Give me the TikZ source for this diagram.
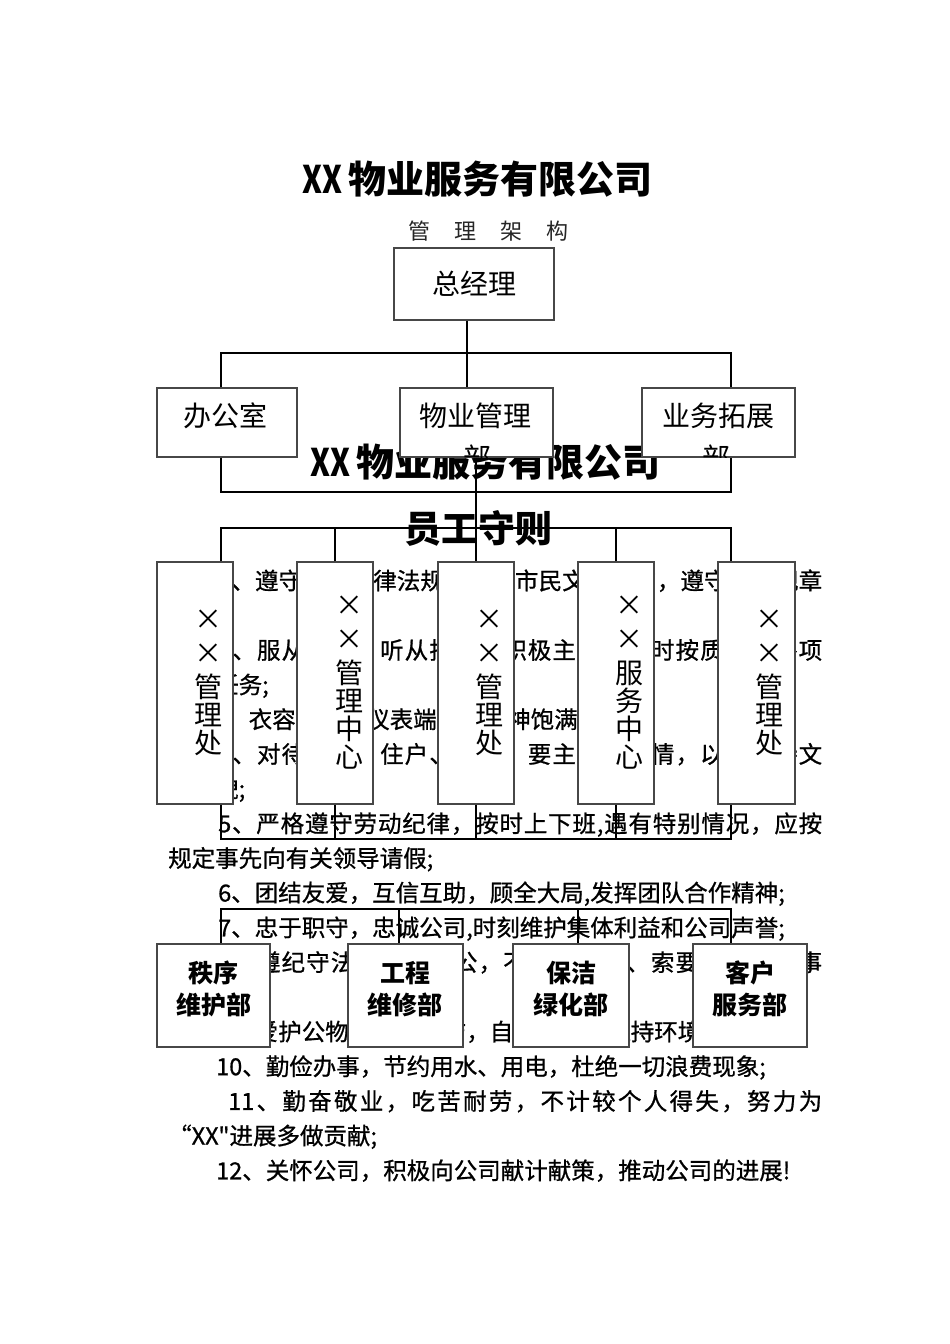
\documentclass[tikz,border=0pt]{standalone}
\usepackage{fontspec}
\setmainfont{Noto Sans CJK SC}
\newfontfamily\rulefont[FakeBold=0.8]{Noto Sans CJK SC}
\usetikzlibrary{positioning}

% spread the characters of one line over a given width
\def\jstop{}
\def\jfirst#1{#1\jrest}
\def\jrest#1{\ifx\jstop#1\else\hskip 0pt plus 1fil\relax#1\expandafter\jrest\fi}
\newcommand\jline[2]{\hbox to #1{\jfirst#2\jstop}}

\tikzset{
  orgbox/.style  ={draw=black!72, line width=1.3pt, fill=white, inner sep=0pt},
  boxlbl/.style  ={inner sep=0pt, font=\fontsize{28}{28}\selectfont},
  vlbl/.style    ={inner sep=0pt, align=center, font=\fontsize{28}{28}\selectfont},
  unitlbl/.style ={inner sep=0pt, align=center, font=\bfseries\fontsize{25}{32}\selectfont},
  body/.style    ={anchor=base west, inner sep=0pt, font=\rulefont\fontsize{23.5}{28}\selectfont},
  heading/.style ={anchor=base west, inner sep=0pt, font=\bfseries\fontsize{38}{40}\selectfont},
  link/.style    ={draw=black, line width=1.3pt},
}

\begin{document}
\begin{tikzpicture}[x=1pt, y=-1pt]
\fill[white] (0,0) rectangle (950,1344);
\useasboundingbox (0,0) rectangle (950,1344);

% headings
\node[heading] (title) at (302,193) {\scalebox{0.8}[1]{XX}\hspace{6pt}物业服务有限公司};
\node[anchor=base west, inner sep=0pt, black!85, font=\fontsize{22}{22}\selectfont] (subtitle) at (408,239)
  {管\hspace{24pt}理\hspace{24pt}架\hspace{24pt}构};
\node[heading] (title2) at (310,476) {\scalebox{0.8}[1]{XX}\hspace{6pt}物业服务有限公司};
\node[heading, font=\bfseries\fontsize{37}{40}\selectfont] (rules) at (404,542) {员工守则};

% staff rules text
\node[body] (r1)  at (218,589.5)  {\jline{604pt}{1、遵守国家法律法规，遵守市民文明公约，遵守公司规章}};
\node[body] (r1b) at (168,624.2)  {制度;};
\node[body] (r2)  at (218,658.9)  {\jline{604pt}{2、服从领导，听从指挥，积极主动，准时按质完成各项}};
\node[body] (r2b) at (168,693.5)  {工作任务;};
\node[body] (r3)  at (212,728.2)  {3、衣容整洁，仪表端庄，精神饱满;};
\node[body] (r4)  at (218,762.9)  {\jline{604pt}{4、对待业主、住户、客户，要主动、热情，以礼相待文}};
\node[body] (r4b) at (168,797.5)  {明礼貌;};
\node[body] (r5)  at (218,832.3)  {\jline{604pt}{5、严格遵守劳动纪律，按时上下班,遇有特别情况，应按}};
\node[body] (r5b) at (168,867)    {规定事先向有关领导请假;};
\node[body] (r6)  at (218,901.5)  {6、团结友爱，互信互助，顾全大局,发挥团队合作精神;};
\node[body] (r7)  at (218,936.4)  {7、忠于职守，忠诚公司,时刻维护集体利益和公司声誉;};
\node[body] (r8)  at (218,971.1)  {\jline{604pt}{8、遵纪守法，廉洁奉公，不贪污受贿、索要好处，凡事}};
\node[body] (r8b) at (168,1005.8) {讲公道;};
\node[body] (r9)  at (218,1040.5) {9、爱护公物，保持清洁，自觉维护和保持环境卫生;};
\node[body] (r10) at (216,1075.2) {10、勤俭办事，节约用水、用电，杜绝一切浪费现象;};
\node[body] (r11) at (228,1109.9) {\jline{594pt}{{11}、勤奋敬业，吃苦耐劳，不计较个人得失，努力为}};
\node[body] (r11b) at (168,1144.5) {“XX\symbol{34}进展多做贡献;};
\node[body] (r12) at (216,1179.3) {12、关怀公司，积极向公司献计献策，推动公司的进展!};

% organisation boxes
\node[orgbox, boxlbl, minimum width=160pt, minimum height=72pt] (gm) at (474,284) {总经理};

\node[orgbox, minimum width=140pt, minimum height=69pt] (office)   at (227,422.5) {};
\node[orgbox, minimum width=153pt, minimum height=69pt] (propmgmt) at (476.5,422.5) {};
\node[orgbox, minimum width=153pt, minimum height=69pt] (bizdev)   at (718.5,422.5) {};
\node[boxlbl] (office-l)   at (225,416)   {办公室};
\node[boxlbl] (propmgmt-l) at (475,416)   {物业管理};
\node[boxlbl] (bizdev-l)   at (718.5,416) {业务拓展};
\begin{scope}
\clip (propmgmt.south west) rectangle (propmgmt.north east);
\node[boxlbl] (propmgmt-b) at (477,458) {部};
\end{scope}
\begin{scope}
\clip (bizdev.south west) rectangle (bizdev.north east);
\node[boxlbl] (bizdev-b) at (716,458) {部};
\end{scope}

\node[orgbox, minimum width=76pt, minimum height=242pt] (d1) at (195,683)   {};
\node[orgbox, minimum width=76pt, minimum height=242pt] (d2) at (335,683)   {};
\node[orgbox, minimum width=76pt, minimum height=242pt] (d3) at (476,683)   {};
\node[orgbox, minimum width=76pt, minimum height=242pt] (d4) at (616,683)   {};
\node[orgbox, minimum width=77pt, minimum height=242pt] (d5) at (756.5,683) {};
\node[vlbl] (d1-l) at (208,683) {×\\[6pt]×\\[6pt]管\\理\\处};
\node[vlbl] (d2-l) at (349,683) {×\\[6pt]×\\[6pt]管\\理\\中\\心};
\node[vlbl] (d3-l) at (489,683) {×\\[6pt]×\\[6pt]管\\理\\处};
\node[vlbl] (d4-l) at (629,683) {×\\[6pt]×\\[6pt]服\\务\\中\\心};
\node[vlbl] (d5-l) at (769,683) {×\\[6pt]×\\[6pt]管\\理\\处};

\node[orgbox, minimum width=113pt, minimum height=103pt] (s1) at (213.5,995.5) {};
\node[orgbox, minimum width=115pt, minimum height=103pt] (s2) at (405.5,995.5) {};
\node[orgbox, minimum width=116pt, minimum height=103pt] (s3) at (571,995.5)   {};
\node[orgbox, minimum width=114pt, minimum height=103pt] (s4) at (750,995.5)   {};
\node[unitlbl] (s1-l) at (213.5,989) {秩序\\维护部};
\node[unitlbl] (s2-l) at (405,989)   {工程\\维修部};
\node[unitlbl] (s3-l) at (571,989)   {保洁\\绿化部};
\node[unitlbl] (s4-l) at (750,989)   {客户\\服务部};

% connectors
\coordinate (b1w) at (221,353); \coordinate (b1e) at (731,353);
\coordinate (b2w) at (221,492); \coordinate (b2e) at (731,492);
\coordinate (b3w) at (221,528); \coordinate (b3e) at (731,528);
\coordinate (b4w) at (221,839); \coordinate (b4e) at (731,839);
\coordinate (b5w) at (221,909); \coordinate (b5e) at (731,909);
\coordinate (b5a) at (399,909); \coordinate (b5b) at (578,909);

\draw[link] ([xshift=-7pt]gm.south) -- ([xshift=-7pt]gm.south |- propmgmt.north);
\draw[link] (office.north -| b1w) -- (b1w) -- (b1e) -- (bizdev.north -| b1e);
\draw[link] (office.south -| b2w) -- (b2w) -- (b2e) -- (bizdev.south -| b2e);
\draw[link] (propmgmt.south -| d3.north) -- (d3.north);
\draw[link] (d1.north -| b3w) -- (b3w) -- (b3e) -- (d5.north -| b3e);
\draw[link] (d2.north) -- (d2.north |- b3w);
\draw[link] (d4.north) -- (d4.north |- b3w);
\draw[link] (d1.south -| b4w) -- (b4w) -- (b4e) -- (d5.south -| b4e);
\foreach \n in {d2,d3,d4}
  \draw[link] (\n.south) -- (\n.south |- b4w);
\draw[link] (s1.north -| b5w) -- (b5w) -- (b5e) -- (s4.north -| b5e);
\draw[link] (b5a) -- (s2.north -| b5a);
\draw[link] (b5b) -- (s3.north -| b5b);
\end{tikzpicture}
\end{document}
